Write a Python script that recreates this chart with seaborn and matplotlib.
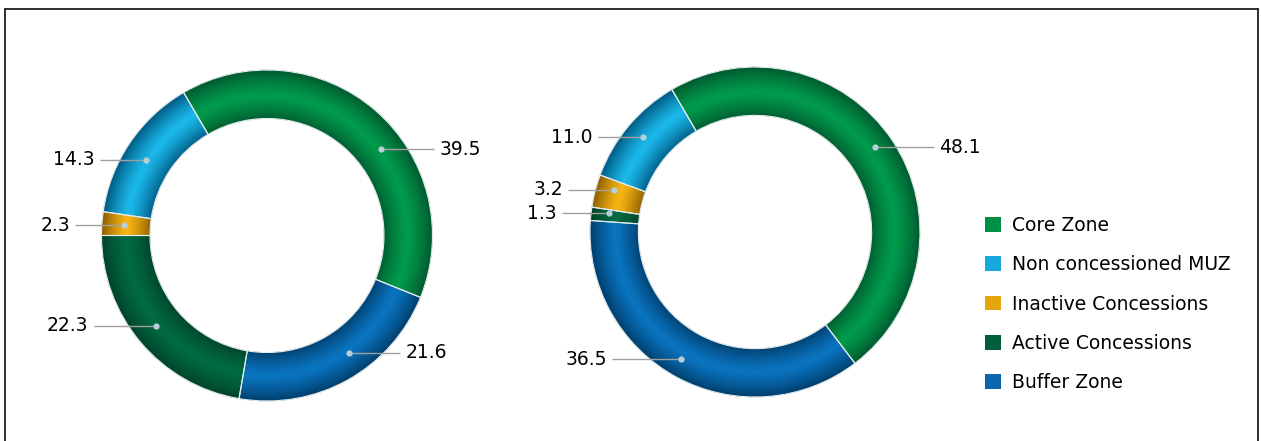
import numpy as np
import matplotlib
matplotlib.use("Agg")
import matplotlib.pyplot as plt
from matplotlib.patches import Patch
from matplotlib.lines import Line2D
import matplotlib.colors as mcolors
import seaborn as sns

# ---------------- data ----------------
categories = ["Core Zone", "Non concessioned MUZ", "Inactive Concessions",
              "Active Concessions", "Buffer Zone"]
left_values = {"Core Zone": 39.5, "Non concessioned MUZ": 14.3,
               "Inactive Concessions": 2.3, "Active Concessions": 22.3,
               "Buffer Zone": 21.6}
right_values = {"Core Zone": 48.1, "Non concessioned MUZ": 11.0,
                "Inactive Concessions": 3.2, "Active Concessions": 1.3,
                "Buffer Zone": 36.5}
# slice order (clockwise) for each donut
left_order = ["Inactive Concessions", "Non concessioned MUZ", "Core Zone",
              "Buffer Zone", "Active Concessions"]
right_order = ["Active Concessions", "Inactive Concessions",
               "Non concessioned MUZ", "Core Zone", "Buffer Zone"]

# ---------------- style ----------------
bright = {"Core Zone": "#009b4c", "Non concessioned MUZ": "#1bb8ea",
          "Inactive Concessions": "#f7b414", "Active Concessions": "#006b42",
          "Buffer Zone": "#0a74c0"}
dark = {"Core Zone": "#005c30", "Non concessioned MUZ": "#005d86",
        "Inactive Concessions": "#8f6200", "Active Concessions": "#00452b",
        "Buffer Zone": "#00406f"}
legend_col = {"Core Zone": "#008f46", "Non concessioned MUZ": "#17a9dc",
              "Inactive Concessions": "#e6a40e", "Active Concessions": "#005e3a",
              "Buffer Zone": "#0a68b0"}

sns.set_theme(style="white")
plt.rcParams["font.family"] = ["DejaVu Sans"]

W, H = 1261, 441
fig = plt.figure(figsize=(W / 100, H / 100), dpi=100)
fig.patch.set_facecolor("white")

R_IN = 0.707
N_BANDS = 40
FS = 13.5
R_LABEL = 1.16


def mix(c1, c2, t):
    a = np.array(mcolors.to_rgb(c1))
    b = np.array(mcolors.to_rgb(c2))
    return tuple(a * (1 - t) + b * t)


def donut(cx, cy, rpx, values, order, startangle, nudges, r_mid, label_dx):
    ax = fig.add_axes([(cx - rpx) / W, (H - cy - rpx) / H, 2 * rpx / W, 2 * rpx / H])
    vals = [values[k] for k in order]
    step = (1 - R_IN) / N_BANDS
    for i in range(N_BANDS):
        r_out = R_IN + (i + 1) * step
        t = (R_IN + (i + 0.5) * step - (1 + R_IN) / 2) / ((1 - R_IN) / 2)
        m = min(1.0, abs(t) ** 1.3)
        cols = [mix(bright[k], dark[k], m) for k in order]
        w = step if i == 0 else step * 1.6
        wedges, _ = ax.pie(vals, radius=r_out, colors=cols, startangle=startangle,
                           counterclock=False, wedgeprops=dict(width=w, linewidth=0))
        for wd in wedges:
            wd.set_edgecolor(wd.get_facecolor())
            wd.set_linewidth(0.3)
    # slice separators
    ax.pie(vals, radius=1.0, startangle=startangle, counterclock=False,
           wedgeprops=dict(width=1 - R_IN, facecolor="none",
                           edgecolor="#e4ecee", linewidth=0.8))
    ax.set_xlim(-1, 1)
    ax.set_ylim(-1, 1)
    ax.set_aspect("equal")
    ax.axis("off")

    # labels with leader lines (label anchors near a circle of radius R_LABEL)
    total = sum(vals)
    ang = startangle
    for k, v in zip(order, vals):
        span = 360 * v / total
        mid = ang - span / 2 + nudges.get(k, 0)
        ang -= span
        a = np.deg2rad(mid)
        x, y = r_mid * np.cos(a), r_mid * np.sin(a)
        side = 1 if np.cos(a) >= 0 else -1
        x2 = side * np.sqrt(max(R_LABEL ** 2 - y ** 2, 0.0)) + label_dx.get(k, 0) / rpx
        ax.plot([x, x2], [y, y], color="#a0a0a0", lw=1.0, clip_on=False,
                solid_capstyle="butt")
        ax.plot([x], [y], "o", ms=4.5, color="#b9cfd6", mec="none", clip_on=False)
        ax.text(x2 + side * 5 / rpx, y, f"{v:.1f}", ha="left" if side > 0 else "right",
                va="center", fontsize=FS, color="#000000", clip_on=False)
    return ax


donut(267, 235.5, 165.5, left_values, left_order, 180,
      {"Core Zone": -12, "Buffer Zone": 6, "Non concessioned MUZ": 2,
       "Active Concessions": -1}, 0.865,
      {"Buffer Zone": -19, "Non concessioned MUZ": 9, "Core Zone": -4,
       "Active Concessions": -4})
donut(755, 232, 165, right_values, right_order, 176,
      {"Core Zone": 1.5, "Non concessioned MUZ": -0.3, "Inactive Concessions": -2.3,
       "Active Concessions": -1.0, "Buffer Zone": -1.7}, 0.89,
      {"Core Zone": 7, "Non concessioned MUZ": 9, "Active Concessions": -3})

# legend
handles = [Patch(facecolor=legend_col[c], edgecolor="none", label=c) for c in categories]
leg = fig.legend(handles=handles, loc="upper left",
                 bbox_to_anchor=(985 / W, 1 - 216 / H), frameon=False, fontsize=FS,
                 handlelength=0.85, handleheight=0.85, handletextpad=0.6,
                 labelspacing=1.08, borderpad=0, borderaxespad=0)
for t in leg.get_texts():
    t.set_color("#000000")

# frame
fc = "#1e1e1e"
fig.add_artist(Line2D([5 / W, 5 / W], [0, 1 - 9 / H], transform=fig.transFigure,
                      color=fc, lw=1.3))
fig.add_artist(Line2D([5 / W, 1258 / W], [1 - 9 / H, 1 - 9 / H],
                      transform=fig.transFigure, color=fc, lw=1.3))
fig.add_artist(Line2D([1258 / W, 1258 / W], [0, 1 - 9 / H],
                      transform=fig.transFigure, color=fc, lw=1.3))

fig.savefig("out.png", dpi=100, facecolor="white")
